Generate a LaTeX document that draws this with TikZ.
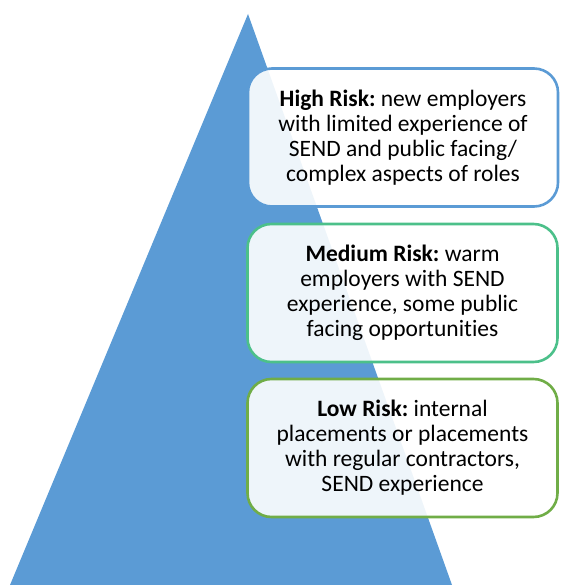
\documentclass[tikz,border=0pt]{standalone}
\usepackage{fontspec}
\setmainfont[Ligatures=NoCommon]{Carlito}
\frenchspacing
\definecolor{triblue}{HTML}{5B9BD5}
\definecolor{highedge}{HTML}{5B9BD5}
\definecolor{midedge}{HTML}{4CC08A}
\definecolor{lowedge}{HTML}{70AD47}
\begin{document}
\begin{tikzpicture}[x=1pt,y=-1pt,
  riskbox/.style={rounded corners=24pt, line width=2.6pt, fill=white, fill opacity=0.9, text opacity=1,
    minimum width=310pt, minimum height=138pt, align=center, inner sep=0pt,
    font=\fontsize{23.5}{25}\selectfont\frenchspacing, text=black}]
\useasboundingbox (0,0) rectangle (560,585);
\coordinate (apex) at (248,14);
\coordinate (bl) at (10,585);
\coordinate (br) at (452,585);
\fill[triblue] (apex) -- (bl) -- (br) -- cycle;
\node[riskbox, draw=highedge] (high) at (403,137.5) {\textbf{High Risk:} new employers\\with limited experience of\\SEND and public facing/\\complex aspects of roles};
\node[riskbox, draw=midedge] (medium) at (402.5,293) {\textbf{Medium Risk:} warm\\employers with SEND\\experience, some public\\facing opportunities};
\node[riskbox, draw=lowedge] (low) at (402.5,448) {\textbf{Low Risk:} internal\\placements or placements\\with regular contractors,\\SEND experience};
\end{tikzpicture}
\end{document}
